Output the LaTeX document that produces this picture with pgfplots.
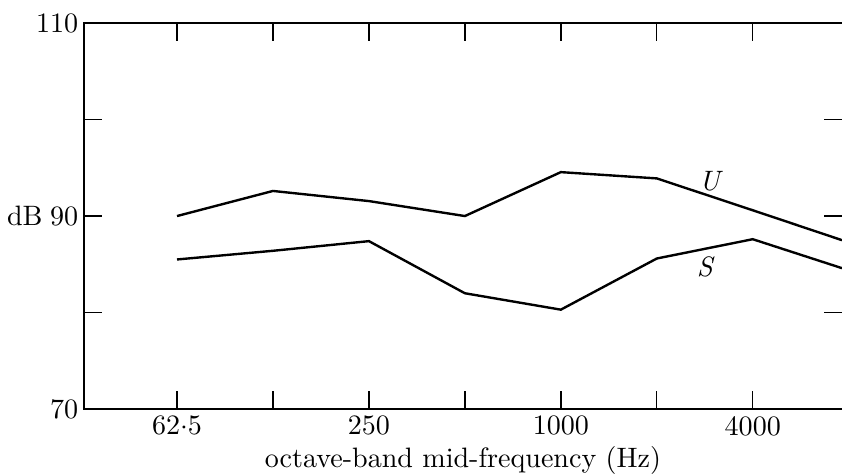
\documentclass[border=0pt]{standalone}
\usepackage{pgfplots}
\pgfplotsset{compat=1.18}
\begin{document}
\begin{tikzpicture}
\begin{axis}[
  width=270pt, height=137.5pt, scale only axis,
  xmin=-0.97, xmax=6.93, ymin=70, ymax=110,
  xtick={0,1,2,3,4,5,6},
  xticklabels={62$\cdot$5,,250,,1000,,4000},
  ytick={70,80,90,100,110},
  yticklabels={70,,90,,110},
  tick align=inside,
  major tick length=6.4pt,
  tick style={black, line width=0.5pt},
  axis line style={draw=none},
  xticklabel style={yshift=1pt},
  yticklabel style={xshift=1.5pt},
  xlabel={octave-band mid-frequency (Hz)},
  xlabel style={yshift=3pt},
  ylabel={dB},
  every axis y label/.style={at={(rel axis cs:0,0.5)}, anchor=east, xshift=-11.2pt},
  clip=false,
]
\draw[line width=0.8pt] (rel axis cs:1,1) -- (rel axis cs:0,1) -- (rel axis cs:0,0) -- (rel axis cs:1,0);
\addplot[black, line width=0.85pt] coordinates {
  (0,90.0) (1,92.6) (2,91.55) (3,90.0) (4,94.55) (5,93.9) (6,90.6) (6.93,87.5)
};
\addplot[black, line width=0.85pt] coordinates {
  (0,85.5) (1,86.4) (2,87.4) (3,82.0) (4,80.3) (5,85.6) (6,87.6) (6.93,84.6)
};
\node at (axis cs:5.55,93.6) {\itshape U};
\node at (axis cs:5.5,84.7) {\itshape S};
\end{axis}
\pgfresetboundingbox
\path ([xshift=-29.9pt,yshift=-23.2pt]current axis.south west) rectangle ([yshift=8.2pt]current axis.north east);
\end{tikzpicture}
\end{document}
